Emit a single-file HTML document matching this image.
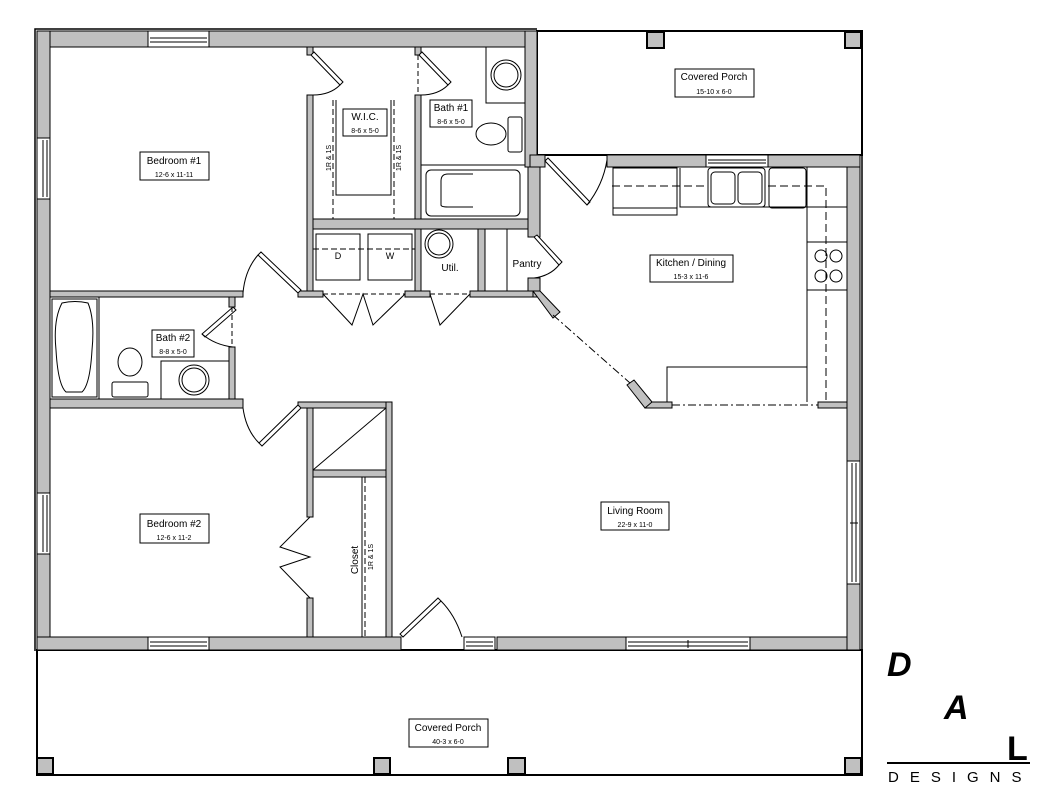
<!DOCTYPE html>
<html><head><meta charset="utf-8"><style>
html,body{margin:0;padding:0;background:#fff;}
svg{display:block;}
text{font-family:"Liberation Sans",sans-serif;fill:#000;}
</style></head><body>
<svg width="1054" height="803" viewBox="0 0 1054 803" xmlns="http://www.w3.org/2000/svg">
<rect width="1054" height="803" fill="#fff"/>
<g stroke="#000" stroke-width="1" fill="#c0c0c0">
<rect x="537" y="31" width="325" height="124" fill="#fff" stroke-width="2"/>
<rect x="37" y="650" width="825" height="125" fill="#fff" stroke-width="2"/>
<rect x="37" y="31" width="500" height="16"/>
<rect x="525" y="31" width="12" height="136"/>
<rect x="37" y="31" width="13" height="619"/>
<rect x="37" y="637" width="364" height="13"/>
<rect x="497" y="637" width="363" height="13"/>
<rect x="847" y="155" width="13" height="495"/>
<rect x="530" y="155" width="15" height="12"/>
<rect x="607" y="155" width="253" height="12"/>
<rect x="307" y="47" width="6" height="8"/>
<rect x="307" y="95" width="6" height="202"/>
<rect x="415" y="47" width="6" height="8"/>
<rect x="415" y="95" width="6" height="202"/>
<rect x="313" y="219" width="217" height="10"/>
<rect x="478" y="229" width="7" height="68"/>
<rect x="528" y="167" width="12" height="70"/>
<rect x="528" y="278" width="12" height="19"/>
<rect x="298" y="291" width="25" height="6"/>
<rect x="405" y="291" width="25" height="6"/>
<rect x="470" y="291" width="63" height="6"/>
<rect x="50" y="291" width="193" height="6"/>
<rect x="229" y="297" width="6" height="10"/>
<rect x="229" y="347" width="6" height="52"/>
<rect x="50" y="399" width="193" height="9"/>
<rect x="298" y="402" width="94" height="6"/>
<rect x="307" y="408" width="6" height="109"/>
<rect x="307" y="598" width="6" height="39"/>
<rect x="386" y="402" width="6" height="235"/>
<rect x="313" y="470" width="73" height="7"/>
<rect x="645" y="402" width="27" height="6"/>
<rect x="818" y="402" width="29" height="6"/>
<polygon points="533,291 540,291 560,312 553,318"/>
<polygon points="627,385 634,380 652,402 645,408"/>
<rect x="647" y="32" width="17" height="16" stroke-width="2"/>
<rect x="845" y="32" width="16" height="16" stroke-width="2"/>
<rect x="37" y="758" width="16" height="16" stroke-width="2"/>
<rect x="374" y="758" width="16" height="16" stroke-width="2"/>
<rect x="508" y="758" width="17" height="16" stroke-width="2"/>
<rect x="845" y="758" width="16" height="16" stroke-width="2"/>
</g>
<polyline points="35,651 35,29 537,29" fill="none" stroke="#000" stroke-width="1.5"/>
<polyline points="862,155 862,651" fill="none" stroke="#000" stroke-width="1.5"/>
<g fill="#fff" stroke="#000" stroke-width="1">
<rect x="148" y="31" width="61" height="16"/><line x1="150" y1="38" x2="207" y2="38"/><line x1="150" y1="42" x2="207" y2="42"/>
<rect x="37" y="138" width="13" height="61"/><line x1="43" y1="140" x2="43" y2="197"/><line x1="47" y1="140" x2="47" y2="197"/>
<rect x="37" y="493" width="13" height="61"/><line x1="43" y1="495" x2="43" y2="552"/><line x1="47" y1="495" x2="47" y2="552"/>
<rect x="148" y="637" width="61" height="13"/><line x1="150" y1="642" x2="207" y2="642"/><line x1="150" y1="646" x2="207" y2="646"/>
<rect x="626" y="637" width="124" height="13"/><line x1="628" y1="642" x2="748" y2="642"/><line x1="628" y1="646" x2="748" y2="646"/><line x1="688" y1="640" x2="688" y2="648"/>
<rect x="847" y="461" width="13" height="123"/><line x1="852" y1="463" x2="852" y2="582"/><line x1="856" y1="463" x2="856" y2="582"/><line x1="850" y1="523" x2="858" y2="523"/>
<rect x="706" y="155" width="62" height="12"/><line x1="708" y1="160" x2="766" y2="160"/><line x1="708" y1="163" x2="766" y2="163"/>
<rect x="464" y="637" width="31" height="13"/><line x1="466" y1="642" x2="493" y2="642"/><line x1="466" y1="646" x2="493" y2="646"/>
</g>
<g fill="none" stroke="#000" stroke-width="1">
<polygon points="311,55 314,52 343,82 340,85" fill="#fff"/><path d="M340,85 Q330,95 313,95"/>
<polygon points="419,55 422,52 451,82 448,85" fill="#fff"/><path d="M448,85 Q438,95 421,95"/>
<line x1="418" y1="55" x2="418" y2="95" stroke-dasharray="5,3"/>
<polygon points="298,293 301,290 261,252 258,255" fill="#fff"/><path d="M258,255 Q245,270 243,293"/>
<polygon points="233,307 236,310 205,337 202,334" fill="#fff"/><path d="M202,334 Q215,345 233,347"/>
<line x1="232" y1="307" x2="232" y2="347" stroke-dasharray="5,3"/>
<polygon points="298,405 301,408 262,446 259,443" fill="#fff"/><path d="M259,443 Q246,430 243,408"/>
<polyline points="310,517 280,547 310,557 280,567 310,598"/>
<polyline points="323,294 352,325 363,294 373,325 405,294"/>
<polyline points="430,294 440,325 470,294"/>
<line x1="323" y1="294" x2="405" y2="294" stroke-dasharray="5,3"/>
<line x1="430" y1="294" x2="470" y2="294" stroke-dasharray="5,3"/>
<polygon points="534,237 537,235 562,262 559,265" fill="#fff"/><path d="M559,265 Q550,276 534,278"/>
<polygon points="545,161 548,158 590,202 587,205" fill="#fff"/><path d="M587,205 Q603,185 607,160"/>
<polygon points="403,637 400,634 438,598 441,601" fill="#fff"/><path d="M441,601 Q455,615 462,637"/>
<line x1="553" y1="315" x2="630" y2="383" stroke-dasharray="8,3,2,3"/>
<line x1="672" y1="405" x2="818" y2="405" stroke-dasharray="8,3,2,3"/>
</g>
<g fill="none" stroke="#000" stroke-width="1">
<polyline points="336,100 336,195 391,195 391,100"/>
<line x1="333" y1="100" x2="333" y2="219" stroke-dasharray="6,3"/>
<line x1="394" y1="100" x2="394" y2="219" stroke-dasharray="6,3"/>
<rect x="486" y="47" width="39" height="56"/>
<circle cx="506" cy="75" r="15"/><circle cx="506" cy="75" r="12"/>
<ellipse cx="491" cy="134" rx="15" ry="11"/><rect x="508" y="117" width="14" height="35" rx="2"/>
<line x1="421" y1="165" x2="525" y2="165"/>
<rect x="426" y="170" width="94" height="46" rx="5"/><path d="M473,174 H448 Q441,174 441,181 V205 Q441,207 448,207 H473"/>
<rect x="316" y="234" width="44" height="46"/><rect x="368" y="234" width="44" height="46"/>
<line x1="313" y1="249" x2="415" y2="249" stroke-dasharray="6,3"/>
<circle cx="439" cy="244" r="14"/><circle cx="439" cy="244" r="11"/>
<line x1="507" y1="229" x2="507" y2="291"/>
<line x1="99" y1="297" x2="99" y2="399"/>
<rect x="52" y="299" width="45" height="98"/>
<path d="M62,303 Q75,300 88,303 Q95,320 92,350 Q90,385 82,392 H66 Q58,385 56,350 Q53,320 62,303 Z"/>
<ellipse cx="130" cy="362" rx="12" ry="14"/><rect x="112" y="382" width="36" height="15" rx="2"/>
<rect x="161" y="361" width="68" height="38"/>
<circle cx="194" cy="380" r="15"/><circle cx="194" cy="380" r="12"/>
<line x1="313" y1="470" x2="386" y2="408"/>
<line x1="362" y1="477" x2="362" y2="637"/>
<line x1="365" y1="477" x2="365" y2="637" stroke-dasharray="6,3"/>
<rect x="613" y="168" width="64" height="47"/><line x1="613" y1="208" x2="677" y2="208"/>
<polyline points="680,168 680,207 807,207 807,167"/>
<rect x="708" y="168" width="57" height="39" rx="3"/>
<rect x="711" y="172" width="24" height="32" rx="4"/><rect x="738" y="172" width="24" height="32" rx="4"/>
<rect x="769" y="168" width="37" height="40" rx="3"/>
<polyline points="807,207 807,402"/>
<line x1="847" y1="207" x2="807" y2="207"/>
<rect x="807" y="242" width="40" height="48"/>
<circle cx="821" cy="256" r="6"/><circle cx="836" cy="256" r="6"/><circle cx="821" cy="276" r="6"/><circle cx="836" cy="276" r="6"/>
<polyline points="667,402 667,367 807,367"/>
<polyline points="612,186 706,186" stroke-dasharray="8,4"/>
<polyline points="768,186 826,186 826,402" stroke-dasharray="8,4"/>
</g>
<g fill="#fff" stroke="#000" stroke-width="1">
<rect x="140" y="152" width="69" height="28"/>
<rect x="343" y="109" width="44" height="27"/>
<rect x="430" y="100" width="42" height="27"/>
<rect x="152" y="330" width="42" height="27"/>
<rect x="650" y="255" width="83" height="27"/>
<rect x="675" y="69" width="79" height="28"/>
<rect x="140" y="514" width="69" height="29"/>
<rect x="601" y="502" width="68" height="28"/>
<rect x="409" y="719" width="79" height="28"/>
</g>
<g font-size="10" text-anchor="middle">
<text x="174" y="164">Bedroom #1</text><text x="174" y="177" font-size="7">12-6 x 11-11</text>
<text x="365" y="120">W.I.C.</text><text x="365" y="133" font-size="7">8-6 x 5-0</text>
<text x="451" y="111">Bath #1</text><text x="451" y="124" font-size="7">8-6 x 5-0</text>
<text x="173" y="341">Bath #2</text><text x="173" y="354" font-size="7">8-8 x 5-0</text>
<text x="691" y="266">Kitchen / Dining</text><text x="691" y="279" font-size="7">15-3 x 11-6</text>
<text x="714" y="80">Covered Porch</text><text x="714" y="94" font-size="7">15-10 x 6-0</text>
<text x="174" y="527">Bedroom #2</text><text x="174" y="540" font-size="7">12-6 x 11-2</text>
<text x="635" y="514">Living Room</text><text x="635" y="527" font-size="7">22-9 x 11-0</text>
<text x="448" y="731">Covered Porch</text><text x="448" y="744" font-size="7">40-3 x 6-0</text>
<text x="450" y="271">Util.</text>
<text x="527" y="267">Pantry</text>
<text x="338" y="259" font-size="9">D</text><text x="390" y="259" font-size="9">W</text>
<text transform="translate(358,560) rotate(-90)">Closet</text>
<text transform="translate(373,557) rotate(-90)" font-size="7">1R &amp; 1S</text>
<text transform="translate(331,158) rotate(-90)" font-size="7">1R &amp; 1S</text>
<text transform="translate(401,158) rotate(-90)" font-size="7">1R &amp; 1S</text>
</g>
<g font-family="Liberation Sans" font-weight="bold" font-style="italic">
<text x="887" y="676" font-size="34">D</text>
<text x="944" y="719" font-size="34">A</text>
<text x="1007" y="760" font-size="34" font-style="normal">L</text>
</g>
<line x1="887" y1="763" x2="1030" y2="763" stroke="#000" stroke-width="2"/>
<text x="888" y="782" font-size="15" letter-spacing="11">DESIGNS</text>
</svg>
</body></html>
